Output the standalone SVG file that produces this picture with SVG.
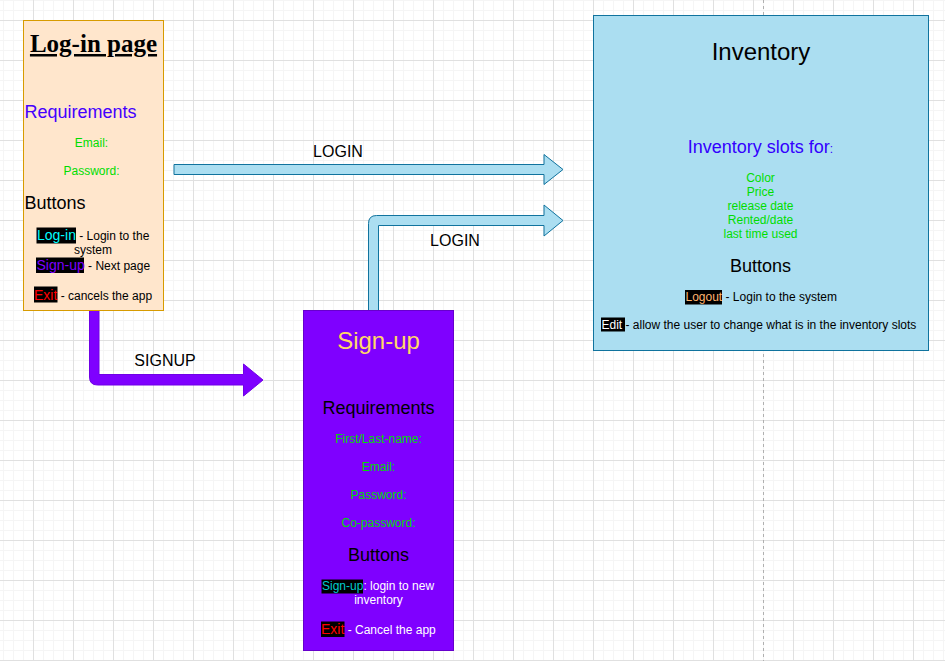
<svg xmlns="http://www.w3.org/2000/svg" width="945" height="661" viewBox="0 0 945 661">
<defs>
<pattern id="grid" x="33" y="20" width="40" height="40" patternUnits="userSpaceOnUse">
<path d="M10.5 0V40M20.5 0V40M30.5 0V40M0 10.5H40M0 20.5H40M0 30.5H40" stroke="#f5f5f5" stroke-width="1" fill="none"/>
<path d="M0.5 0V40M0 0.5H40" stroke="#e0e0e0" stroke-width="1" fill="none"/>
</pattern>
<style>
text{font-family:"Liberation Sans",Arial,Helvetica,sans-serif;}
.c{text-anchor:middle;}
.s12{font-size:12px;}
.s14{font-size:14px;}
.s18{font-size:18px;}
.s24{font-size:24px;}
.green{fill:#00dd00;}
.blue-arrow{fill:#abdef1;stroke:#10739e;stroke-width:1;}
.purple-arrow{fill:#7f00ff;stroke:#7000e6;stroke-width:1;}
.hl{fill:#000000;}
.lbl{font-size:16px;fill:#000;text-anchor:middle;}
</style>
</defs>
<rect x="0" y="0" width="945" height="661" fill="#ffffff"/>
<rect x="0" y="0" width="945" height="661" fill="url(#grid)"/>
<line x1="763.5" y1="0" x2="763.5" y2="661" stroke="#b0b0b0" stroke-width="1" stroke-dasharray="3 3"/>

<g id="connectors">
<path class="blue-arrow" d="M174 164.5H544V154.5L563 169.5L544 184.5V174.5H174Z"/>
<path class="blue-arrow" d="M368.5 310.5V223.5Q368.5 215.5 376.5 215.5H544V205L563 220.5L544 236V225.5H378.5V310.5Z"/>
<path class="purple-arrow" d="M89.5 310.5V377Q89.5 385 97.5 385H243.5V396L263 380L243.5 364V374.5H99V310.5Z"/>
<text class="lbl" x="338" y="157">LOGIN</text>
<text class="lbl" x="455" y="246">LOGIN</text>
<text class="lbl" x="165" y="366">SIGNUP</text>
</g>

<g id="login-page">
<rect x="23.5" y="20.5" width="140" height="290" fill="#ffe6cc" stroke="#d79b00" stroke-width="1"/>
<text x="93.5" y="52" style="font-family:'Liberation Serif','Times New Roman',serif;font-size:25px;font-weight:bold;text-decoration:underline;text-anchor:middle;" fill="#000">Log-in page</text>
<text class="s18" x="24.5" y="118" fill="#4400ff">Requirements</text>
<text class="s12 green c" x="91.5" y="147">Email:</text>
<text class="s12 green c" x="91.5" y="175">Password:</text>
<text class="s18" x="24.5" y="209" fill="#000">Buttons</text>
<rect class="hl" x="36.5" y="227.5" width="39.5" height="16"/>
<text x="37" y="240"><tspan class="s14" fill="#00ffff">Log-in</tspan><tspan class="s12" fill="#000"> - Login to the</tspan></text>
<text class="s12 c" x="93" y="253.5" fill="#000">system</text>
<rect class="hl" x="36" y="257.5" width="48" height="15.5"/>
<text x="36.5" y="269.5"><tspan class="s14" fill="#7f00ff">Sign-up</tspan><tspan class="s12" fill="#000"> - Next page</tspan></text>
<rect class="hl" x="34" y="286.5" width="23.5" height="16"/>
<text x="34" y="299.5"><tspan class="s14" fill="#ff0000">Exit</tspan><tspan class="s12" fill="#000"> - cancels the app</tspan></text>
</g>

<g id="sign-up">
<rect x="303.5" y="310.5" width="150" height="340" fill="#7f00ff" stroke="#6600cc" stroke-width="1"/>
<text class="s24 c" x="378.5" y="349" fill="#ffd966">Sign-up</text>
<text class="s18 c" x="378.5" y="414" fill="#000">Requirements</text>
<text class="s12 green c" x="378.5" y="443">First/Last-name:</text>
<text class="s12 green c" x="378.5" y="471">Email:</text>
<text class="s12 green c" x="378.5" y="499">Password:</text>
<text class="s12 green c" x="378.5" y="527">Co-password:</text>
<text class="s18 c" x="378.5" y="561" fill="#000">Buttons</text>
<rect class="hl" x="321.5" y="579.5" width="41.5" height="14"/>
<text x="322" y="589.5"><tspan class="s12" fill="#00cccc">Sign-up</tspan><tspan class="s12" fill="#ffffff">: login to new</tspan></text>
<text class="s12 c" x="378.5" y="603.5" fill="#ffffff">inventory</text>
<rect class="hl" x="321" y="621.5" width="23.5" height="15.5"/>
<text x="321" y="634"><tspan class="s14" fill="#ff0000">Exit</tspan><tspan class="s12" fill="#ffffff"> - Cancel the app</tspan></text>
</g>

<g id="inventory">
<rect x="593.5" y="15.5" width="335" height="335" fill="#abdef1" stroke="#10739e" stroke-width="1"/>
<text class="s24 c" x="761" y="59.5" fill="#000">Inventory</text>
<text class="c" x="760.5" y="153" fill="#3300ff"><tspan class="s18">Inventory slots for</tspan><tspan class="s12">:</tspan></text>
<text class="s12 green c" x="760.5" y="182">Color</text>
<text class="s12 green c" x="760.5" y="196">Price</text>
<text class="s12 green c" x="760.5" y="210">release date</text>
<text class="s12 green c" x="760.5" y="224">Rented/date</text>
<text class="s12 green c" x="760.5" y="238">last time used</text>
<text class="s18 c" x="760.5" y="272" fill="#000">Buttons</text>
<rect class="hl" x="685" y="290" width="37" height="14.5"/>
<text class="s12" x="685.5" y="301"><tspan fill="#ffb570">Logout</tspan><tspan fill="#000"> - Login to the system</tspan></text>
<rect class="hl" x="601" y="317.5" width="24" height="14"/>
<text class="s12" x="601.5" y="328.5"><tspan fill="#ffffff">Edit </tspan><tspan fill="#000">- allow the user to change what is in the inventory slots</tspan></text>
</g>
</svg>
